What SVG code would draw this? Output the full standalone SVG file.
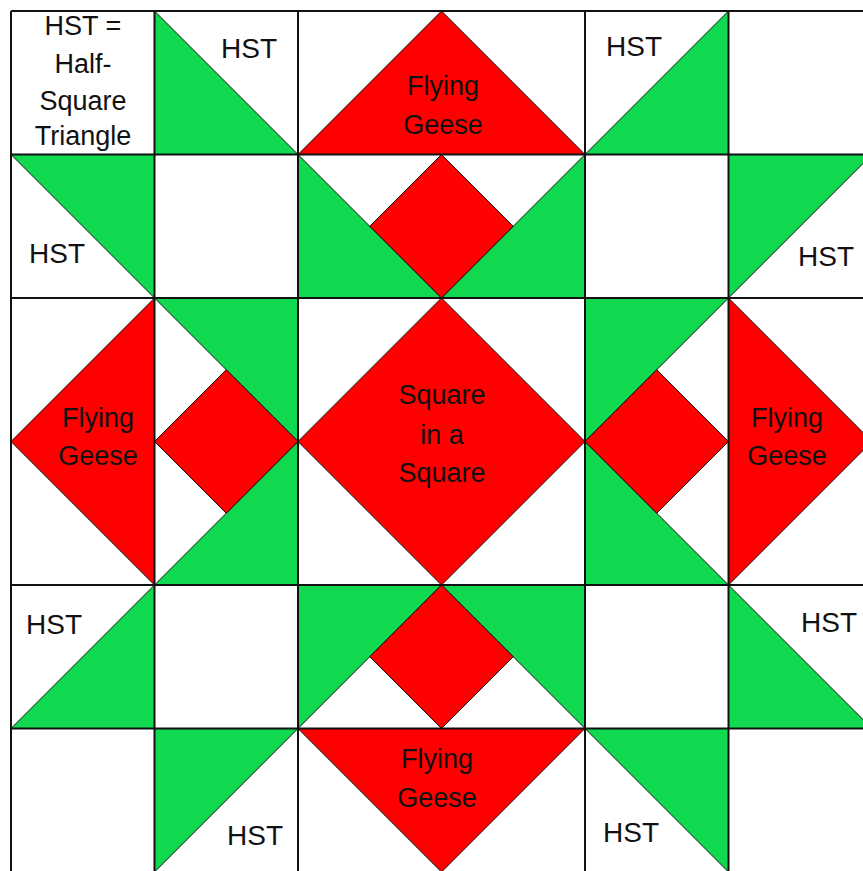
<svg xmlns="http://www.w3.org/2000/svg" width="863" height="871" viewBox="0 0 863 871">
<style>
.g{fill:#10d950;stroke:#111;stroke-width:1}
.r{fill:#ff0000;stroke:#111;stroke-width:1}
.grid{stroke:#111;stroke-width:2;fill:none}
.hst{font-family:"Liberation Sans",Arial,sans-serif;font-size:28px;fill:#111}
.lbl{font-family:"Liberation Sans",Arial,sans-serif;font-size:27px;fill:#111;text-anchor:middle}
</style>
<rect x="0" y="0" width="863" height="871" fill="#fff"/>
<g id="legend">
<text class="lbl" x="83" y="35">HST =</text>
<text class="lbl" x="83" y="73">Half-</text>
<text class="lbl" x="83" y="110">Square</text>
<text class="lbl" x="83" y="145">Triangle</text>
</g>
<g id="hst-top-1"><polygon class="g" points="154.5,11 154.5,154.5 298,154.5"/><text class="hst" x="221" y="58">HST</text></g>
<g id="geese-top"><polygon class="r" points="298,154.5 441.5,11 585,154.5"/><text class="lbl" x="443" y="95">Flying</text><text class="lbl" x="443" y="134">Geese</text></g>
<g id="hst-top-4"><polygon class="g" points="728.5,11 728.5,154.5 585,154.5"/><text class="hst" x="606" y="56">HST</text></g>
<g id="hst-r1-0"><polygon class="g" points="11,154.5 154.5,154.5 154.5,298"/><text class="hst" x="29" y="263">HST</text></g>
<g id="unit-top"><polygon class="g" points="298,154.5 298,298 441.5,298"/><polygon class="g" points="585,154.5 585,298 441.5,298"/><polygon class="r" points="441.5,154.5 513.25,226.25 441.5,298 369.75,226.25"/></g>
<g id="hst-r1-5"><polygon class="g" points="728.5,154.5 872,154.5 728.5,298"/><text class="hst" x="798" y="266">HST</text></g>
<g id="geese-left"><polygon class="r" points="154.5,298 11,441.5 154.5,585"/><text class="lbl" x="98" y="427">Flying</text><text class="lbl" x="98" y="465">Geese</text></g>
<g id="unit-left"><polygon class="g" points="154.5,298 298,298 298,441.5"/><polygon class="g" points="154.5,585 298,585 298,441.5"/><polygon class="r" points="154.5,441.5 226.25,369.75 298,441.5 226.25,513.25"/></g>
<g id="square-in-square"><polygon class="r" points="441.5,298 585,441.5 441.5,585 298,441.5"/><text class="lbl" x="442" y="404">Square</text><text class="lbl" x="442" y="444">in a</text><text class="lbl" x="442" y="482">Square</text></g>
<g id="unit-right"><polygon class="g" points="585,298 728.5,298 585,441.5"/><polygon class="g" points="585,585 728.5,585 585,441.5"/><polygon class="r" points="585,441.5 656.75,369.75 728.5,441.5 656.75,513.25"/></g>
<g id="geese-right"><polygon class="r" points="728.5,298 872,441.5 728.5,585"/><text class="lbl" x="787" y="427">Flying</text><text class="lbl" x="787" y="465">Geese</text></g>
<g id="hst-r4-0"><polygon class="g" points="154.5,585 154.5,728.5 11,728.5"/><text class="hst" x="26" y="634">HST</text></g>
<g id="unit-bottom"><polygon class="g" points="298,585 441.5,585 298,728.5"/><polygon class="g" points="441.5,585 585,585 585,728.5"/><polygon class="r" points="441.5,585 513.25,656.75 441.5,728.5 369.75,656.75"/></g>
<g id="hst-r4-5"><polygon class="g" points="728.5,585 728.5,728.5 872,728.5"/><text class="hst" x="801" y="632">HST</text></g>
<g id="hst-bot-1"><polygon class="g" points="154.5,728.5 298,728.5 154.5,872"/><text class="hst" x="227" y="845">HST</text></g>
<g id="geese-bottom"><polygon class="r" points="298,728.5 585,728.5 441.5,872"/><text class="lbl" x="437" y="768">Flying</text><text class="lbl" x="437" y="807">Geese</text></g>
<g id="hst-bot-4"><polygon class="g" points="585,728.5 728.5,728.5 728.5,872"/><text class="hst" x="603" y="842">HST</text></g>
<g id="connectors" class="grid">
<path d="M11,11V871M154.5,11V871M298,11V871M585,11V871M728.5,11V871"/>
<path d="M11,11H863M11,154.5H863M11,298H863M11,585H863M11,728.5H863"/>
</g>
</svg>
